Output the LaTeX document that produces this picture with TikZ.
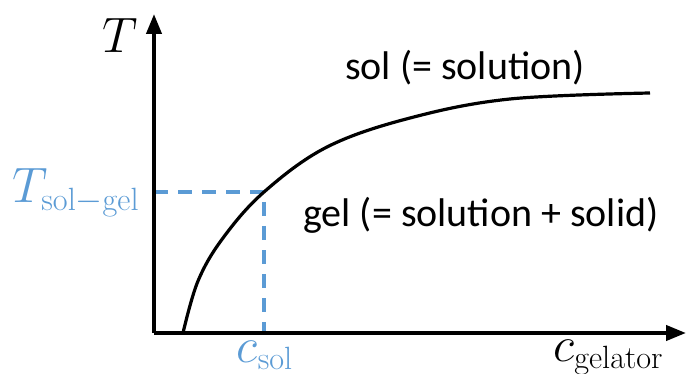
\documentclass[tikz,border=0pt]{standalone}
\usepackage{fontspec}
\newfontfamily\regionfont{Carlito}
\usepackage{tikz}
\usetikzlibrary{positioning, arrows.meta, calc}
\definecolor{gelBlue}{HTML}{5B9BD5}

\begin{document}
\begin{tikzpicture}[x=0.5pt, y=-0.5pt, every node/.style={inner sep=0pt}]
    \tikzset{axis/.style={line width=2pt,-{Triangle[length=10pt,width=7.5pt]}}, curve/.style={line width=1.6pt}, guide/.style={line width=1.6pt,draw=gelBlue,dash pattern=on 7pt off 5pt}, region/.style={font=\regionfont\fontsize{20}{24}\selectfont}, mathlabel/.style={font=\fontsize{23}{27}\selectfont}}
    \useasboundingbox (0,0) rectangle (686,374);
    \coordinate (o) at (154,333);
    \coordinate (ytop) at (154,14);
    \coordinate (xend) at (686,333);
    \coordinate (p) at (264,192);
    \coordinate (pT) at (154,192);
    \coordinate (pc) at (264,333);
    \draw[guide] (pT) -- (p) -- (pc);
    % solubility curve
    \draw[curve] plot[smooth, tension=0.6] coordinates {(183,333) (198,281) (223,238) (264,192) (327,147) (410,118) (510,99) (650,93)};
    \draw[axis] (o) -- (ytop);
    \draw[axis] (o) -- (xend);
    \node[mathlabel, anchor=base east] (tlab) at (138,53) {$T$};
    \node[mathlabel, anchor=base east, text=gelBlue] (tsg) at (140,203) {$T_{\mathrm{sol-gel}}$};
    \node[mathlabel, anchor=base, text=gelBlue] (csol) at (265,362) {$c_{\mathrm{sol}}$};
    \node[mathlabel, anchor=base west] (cgel) at (553,361) {$c_{\mathrm{gelator}}$};
    \node[region, anchor=base] (sol) at (465,80) {sol (= solution)};
    \node[region, anchor=base] (gel) at (481,227) {gel (= solution + solid)};
\end{tikzpicture}
\end{document}
